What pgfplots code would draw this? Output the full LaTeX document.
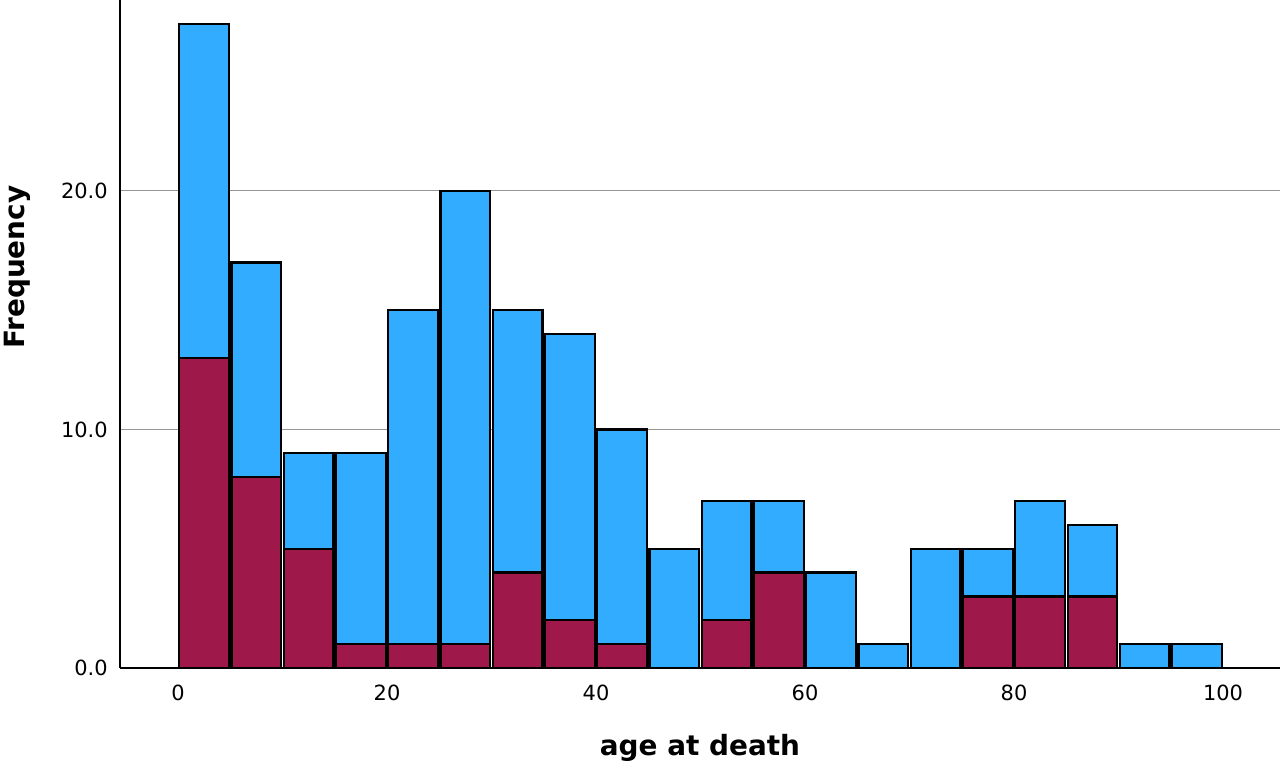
\documentclass[border=0pt]{standalone}
\usepackage{fontspec}
\setmainfont{DejaVu Sans}
\usepackage{pgfplots}
\pgfplotsset{compat=1.18}
\definecolor{spssblue}{RGB}{50,172,255}
\definecolor{spssred}{RGB}{158,25,74}
\definecolor{gridgray}{RGB}{150,150,150}
\begin{document}
\begin{tikzpicture}
\begin{axis}[
  name=ax,
  scale only axis,
  width=580bp, height=334bp,
  xmin=-5.55, xmax=105.45,
  ymin=0, ymax=28,
  axis x line=bottom, axis y line=left,
  axis line style={-, black, line width=1bp},
  xtick={0,20,40,60,80,100},
  ytick={0,10,20},
  major tick length=0pt,
  ymajorgrids,
  grid style={gridgray, line width=0.6bp},
  /pgf/number format/assume math mode=true,
  yticklabel style={/pgf/number format/fixed, /pgf/number format/fixed zerofill, /pgf/number format/precision=1,
    font=\fontsize{10.5}{12}\selectfont, anchor=east, inner sep=0pt, xshift=-6bp},
  xticklabel style={font=\fontsize{10.5}{12}\selectfont, anchor=north, inner sep=0pt, yshift=-8.5bp},
  scaled y ticks=false,
  xlabel={age at death},
  ylabel={Frequency},
  xlabel style={font=\fontsize{14}{16}\selectfont\bfseries, at={(axis description cs:0.5,0)}, anchor=center, yshift=-40bp},
  ylabel style={font=\fontsize{14}{16}\selectfont\bfseries, at={(axis description cs:-0.0888,0.6)}, rotate=0, anchor=center},
  clip=false,
]
% totals
\addplot[ybar, bar width=4.75, bar shift=0pt, fill=spssblue, draw=black, line width=1.1bp] coordinates {
(2.5,27) (7.5,17) (12.5,9) (17.5,9) (22.5,15) (27.5,20) (32.5,15) (37.5,14) (42.5,10) (47.5,5)
(52.5,7) (57.5,7) (62.5,4) (67.5,1) (72.5,5) (77.5,5) (82.5,7) (87.5,6) (92.5,1) (97.5,1)
};
% second group
\addplot[ybar, bar width=4.75, bar shift=0pt, fill=spssred, draw=black, line width=1.1bp] coordinates {
(2.5,13) (7.5,8) (12.5,5) (17.5,1) (22.5,1) (27.5,1) (32.5,4) (37.5,2) (42.5,1)
(52.5,2) (57.5,4) (77.5,3) (82.5,3) (87.5,3)
};
\end{axis}
\pgfresetboundingbox
\path[use as bounding box] ([xshift=-60bp,yshift=-51bp]ax.south west) rectangle (ax.north east);
\end{tikzpicture}
\end{document}
